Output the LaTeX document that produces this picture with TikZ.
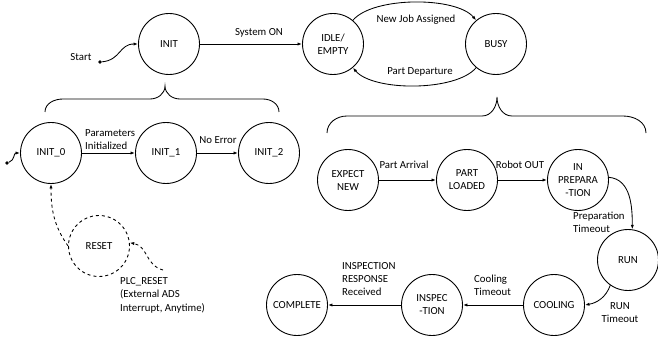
\documentclass[tikz,border=0pt]{standalone}
\usepackage{fontspec}
\setmainfont{Carlito}
\usetikzlibrary{arrows.meta}

\begin{document}
\begin{tikzpicture}[x=1pt,y=1pt,
  font=\fontsize{10.8}{13}\selectfont,
  state/.style={circle,draw,line width=0.9pt,minimum size=61pt,inner sep=0pt,align=center},
  dstate/.style={state,dashed},
  trans/.style={-{Latex[length=4.5pt,width=3.2pt]},line width=0.85pt},
  dtrans/.style={trans,dashed},
  lbl/.style={inner sep=0pt,align=left},
  clbl/.style={inner sep=0pt,align=center},
  brace/.style={line width=0.85pt},
  dot/.style={circle,fill,inner sep=0pt,minimum size=3.6pt},
  ]
\useasboundingbox (0,0) rectangle (658,-339);

% top level states
\node[state] (init) at (169,-44) {INIT};
\node[state] (idle) at (333,-44) {IDLE/\\EMPTY};
\node[state] (busy) at (496,-44) {BUSY};

\node[dot] (s0) at (100,-62) {};
\node[clbl] at (81,-57) {Start};
\draw[trans] (s0) to[out=5,in=180,looseness=1.2] (init.west);

\draw[trans] (init.east) -- (idle.west);
\node[clbl] at (259,-33) {System ON};

\draw[trans] (idle.50) to[out=50,in=130,looseness=0.65] (busy.130);
\node[clbl] at (416,-20) {New Job Assigned};
\draw[trans] (busy.230) to[out=230,in=310,looseness=0.65] (idle.310);
\node[clbl] at (420,-72) {Part Departure};

% braces
\draw[brace] (45,-112) to[out=90,in=180] (63,-99) -- (150,-99)
  to[out=0,in=-90] (165,-86) to[out=-90,in=180] (180,-99) -- (263,-99)
  to[out=0,in=90] (279,-112);
\draw[brace] (327,-133) to[out=90,in=180] (347,-116) -- (482,-116)
  to[out=0,in=-90] (497,-97) to[out=-90,in=180] (512,-116) -- (623,-116)
  to[out=0,in=90] (646,-133);

% INIT sub-states
\node[state] (init0) at (51,-153) {INIT\_0};
\node[state] (init1) at (166,-153) {INIT\_1};
\node[state] (init2) at (269,-153) {INIT\_2};

\node[dot] (s1) at (7,-163) {};
\draw[trans] (s1) to[out=20,in=180,looseness=1.2] (init0.west);

\draw[trans] (init0.east) -- (init1.west);
\node[lbl,anchor=west] at (85,-140) {Parameters\\Initialized};
\draw[trans] (init1.east) -- (init2.west);
\node[clbl] at (218,-140) {No Error};

\node[dstate] (reset) at (99,-246) {RESET};
\draw[dtrans] (reset.west) to[out=125,in=-90] (init0.south);

\coordinate (plc) at (163,-270);
\draw[dtrans] (plc) to[out=165,in=-10,looseness=1.1] (reset.6);
\node[lbl,anchor=north west,font=\fontsize{10.8}{13.5}\selectfont] at (120,-277) {PLC\_RESET\\(External ADS\\Interrupt, Anytime)};

% BUSY sub-states
\node[state] (expect) at (348,-180) {EXPECT\\NEW};
\node[state] (loaded) at (467,-180) {PART\\LOADED};
\node[state] (prep) at (578,-180) {IN\\PREPARA\\-TION};
\node[state] (run) at (628,-260) {RUN};
\node[state] (cooling) at (554,-305) {COOLING};
\node[state] (inspec) at (432,-305) {INSPEC\\-TION};
\node[state] (complete) at (297,-305) {COMPLETE};

\draw[trans] (expect.east) -- (loaded.west);
\node[clbl] at (404,-165) {Part Arrival};
\draw[trans] (loaded.east) -- (prep.west);
\node[clbl] at (520,-165) {Robot OUT};

\draw[trans] (prep.5) to[out=-5,in=90] (run.82);
\node[lbl,anchor=west] at (573,-222) {Preparation\\Timeout};

\draw[trans] (run.235) to[out=250,in=10] (cooling.east);
\node[clbl] at (620,-313) {RUN\\Timeout};

\draw[trans] (cooling.west) -- (inspec.east);
\node[lbl,anchor=west] at (474,-285.5) {Cooling\\Timeout};

\draw[trans] (inspec.west) -- (complete.east);
\node[lbl,anchor=west] at (342,-279.5) {INSPECTION\\RESPONSE\\Received};
\end{tikzpicture}
\end{document}
